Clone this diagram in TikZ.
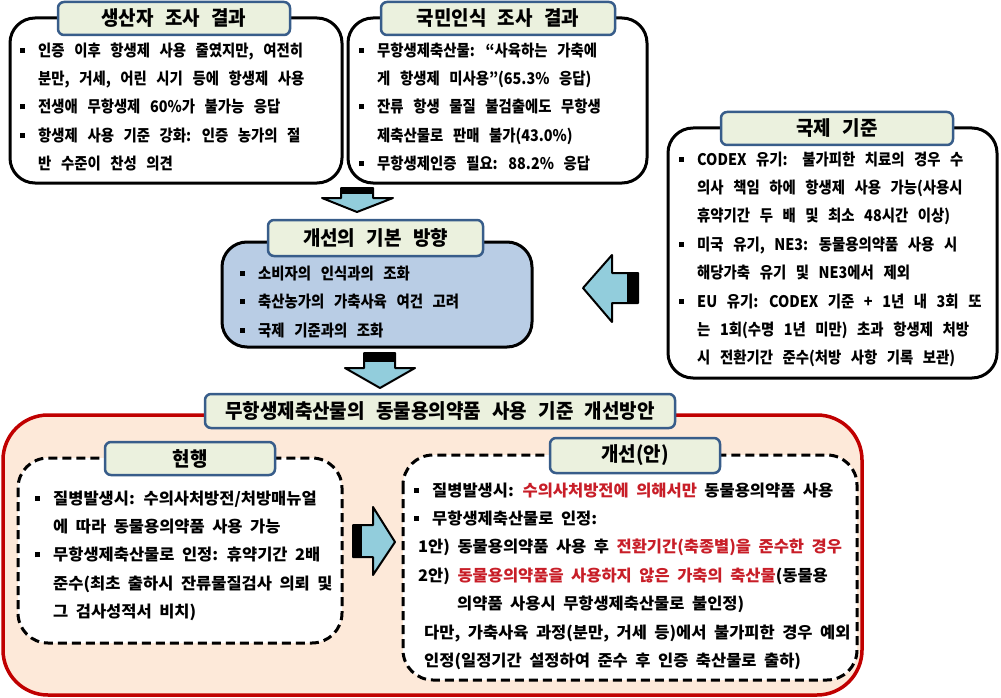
\documentclass[tikz,border=0pt]{standalone}
\usepackage{fontspec}
\setmainfont{Noto Sans CJK KR}[FakeStretch=0.9, WordSpace=2.9]
\newfontfamily\headfont{Noto Sans CJK KR}[FakeStretch=0.95, WordSpace=2.6]
\newfontfamily\planfont{Noto Sans CJK KR}[FakeStretch=1.03, WordSpace=2.0]
\usetikzlibrary{calc}

\definecolor{headfill}{RGB}{235,241,222}
\definecolor{headline}{RGB}{56,93,138}
\definecolor{dirfill}{RGB}{185,205,229}
\definecolor{arrowfill}{RGB}{146,205,220}
\definecolor{planfill}{RGB}{253,233,217}
\definecolor{planline}{RGB}{192,0,0}
\definecolor{hilite}{RGB}{200,30,40}

\newcommand{\bul}{\makebox[18pt][l]{\rule[3.5pt]{5pt}{5pt}}}
\newcommand{\ind}{\hspace*{18pt}}
\newcommand{\hl}[1]{\textcolor{hilite}{#1}}

\begin{document}
\begin{tikzpicture}[x=1pt, y=-1pt, line join=round,
    surveybox/.style={draw=black, line width=3pt, rounded corners=25pt, fill=white},
    dashbox/.style={draw=black, line width=3pt, dash pattern=on 9pt off 5pt, rounded corners=30pt, fill=white},
    headbox/.style={draw=headline, line width=2.5pt, fill=headfill, rounded corners=6pt, inner sep=0pt,
        font=\headfont\fontsize{20}{24}\selectfont\bfseries},
    bodytext/.style={anchor=base west, align=left, inner sep=0pt,
        font=\fontsize{16}{28.4}\selectfont\bfseries},
    plantext/.style={bodytext, font=\planfont\fontsize{16}{28.4}\selectfont\bfseries},
    blockarrow/.style={draw=black, line width=2pt, fill=arrowfill}]

    \useasboundingbox (0,0) rectangle (1001,698);

    % survey results (text nodes are placed by the baseline of their last line)
    \draw[surveybox] (10,18) rectangle (342,183);
    \node[headbox, minimum width=232pt, minimum height=33pt] (prodhead) at (174,18.5) {생산자 조사 결과};
    \node[bodytext] (prodtext) at (20,169.6) {\bul 인증 이후 항생제 사용 줄였지만, 여전히\\\ind 분만, 거세, 어린 시기 등에 항생제 사용\\\bul 전생애 무항생제 60\%가 불가능 응답\\\bul 항생제 사용 기준 강화: 인증 농가의 절\\\ind 반 수준이 찬성 의견};

    \draw[surveybox] (348,18) rectangle (647,183);
    \node[headbox, minimum width=234pt, minimum height=33pt] (pubhead) at (498,18.5) {국민인식 조사 결과};
    \node[bodytext] (pubtext) at (359,169.6) {\bul 무항생제축산물: “사육하는 가축에\\\ind 게 항생제 미사용”(65.3\% 응답)\\\bul 잔류 항생 물질 불검출에도 무항생\\\ind 제축산물로 판매 불가(43.0\%)\\\bul 무항생제인증 필요: 88.2\% 응답};

    % international standards
    \draw[surveybox] (668,128) rectangle (997,378);
    \node[headbox, minimum width=232pt, minimum height=33pt] (intlhead) at (837,128.5) {국제 기준};
    \node[bodytext] (intltext) at (679,363.8) {\bul CODEX 유기:\hspace{4pt} 불가피한 치료의 경우 수\\\ind 의사 책임 하에 항생제 사용 가능(사용시\\\ind 휴약기간 두 배 및 최소 48시간 이상)\\\bul 미국 유기, NE3: 동물용의약품 사용 시\\\ind 해당가축 유기 및 NE3에서 제외\\\bul EU 유기: CODEX 기준 + 1년 내 3회 또\\\ind 는 1회(수명 1년 미만) 초과 항생제 처방\\\ind 시 전환기간 준수(처방 사항 기록 보관)};

    % basic direction
    \draw[surveybox, fill=dirfill] (222,242) rectangle (532,347);
    \node[headbox, minimum width=215pt, minimum height=36pt] (dirhead) at (375.5,238) {개선의 기본 방향};
    \node[bodytext] (dirtext) at (240,336) {\bul 소비자의 인식과의 조화\\\bul 축산농가의 가축사육 여건 고려\\\bul 국제 기준과의 조화};

    % arrows
    \draw[blockarrow] (341,188) -- (373,188) -- (373,198) -- (393,198) -- (357,212) -- (322,198) -- (341,198) -- cycle;
    \fill[black] (341,188) rectangle (373,194);
    \draw[blockarrow] (638,273) -- (638,303) -- (612,303) -- (612,322) -- (583,288) -- (612,255) -- (612,273) -- cycle;
    \fill[black] (627,273) rectangle (638,303);
    \draw[blockarrow] (364,353) -- (395,353) -- (395,368) -- (415,368) -- (380,388) -- (345,368) -- (364,368) -- cycle;
    \fill[black] (364,353) rectangle (395,362);

    % improvement plan
    \draw[draw=planline, line width=3.5pt, fill=planfill, rounded corners=45pt] (3,415) rectangle (862,695);
    \node[headbox, minimum width=470pt, minimum height=34pt] (planhead) at (440,411) {무항생제축산물의 동물용의약품 사용 기준 개선방안};

    \draw[dashbox] (18,458) rectangle (342,643);
    \node[headbox, minimum width=170pt, minimum height=33pt] (curhead) at (190,458.5) {현행};
    \node[plantext] (curtext) at (35,617.6) {\bul 질병발생시: 수의사처방전/처방매뉴얼\\\ind 에 따라 동물용의약품 사용 가능\\\bul 무항생제축산물로 인정: 휴약기간 2배\\\ind 준수(최초 출하시 잔류물질검사 의뢰 및\\\ind 그 검사성적서 비치)};

    \draw[blockarrow] (353,525) -- (373,525) -- (373,507) -- (395,542) -- (373,575) -- (373,557) -- (353,557) -- cycle;
    \fill[black] (353,525) rectangle (362,557);

    \draw[dashbox] (403,455) rectangle (857,680);
    \node[headbox, minimum width=170pt, minimum height=35pt] (imphead) at (635,455.5) {개선(안)};
    \node[plantext] (imptext) at (414,666.4) {\bul 질병발생시: \hl{수의사처방전에 의해서만} 동물용의약품 사용\\\bul 무항생제축산물로 인정:\\\hspace*{4pt}1안) 동물용의약품 사용 후 \hl{전환기간(축종별)을 준수한 경우}\\\hspace*{4pt}2안) \hl{동물용의약품을 사용하지 않은 가축의 축산물}(동물용\\\hspace*{43pt}의약품 사용시 무항생제축산물로 불인정)\\\hspace*{10pt}다만, 가축사육 과정(분만, 거세 등)에서 불가피한 경우 예외\\\hspace*{10pt}인정(일정기간 설정하여 준수 후 인증 축산물로 출하)};

\end{tikzpicture}
\end{document}
